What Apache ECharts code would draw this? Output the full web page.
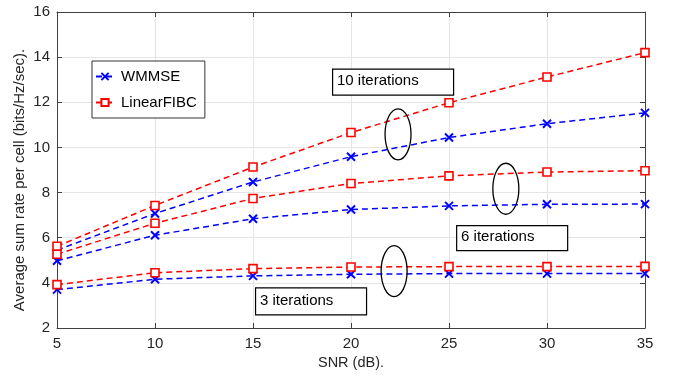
<!DOCTYPE html>
<html>
<head>
<meta charset="utf-8">
<script src="https://cdn.jsdelivr.net/npm/echarts@6/dist/echarts.min.js"></script>
<style>
html,body{margin:0;padding:0;background:#fff;}
#main{width:675px;height:379px;}
</style>
</head>
<body>
<div id="main"></div>
<script>
const snr = [5, 10, 15, 20, 25, 30, 35];
const xTicks = [5, 10, 15, 20, 25, 30, 35];
const yTicks = [2, 4, 6, 8, 10, 12, 14, 16];
const wmmse10 = [5.45, 7.07, 8.47, 9.59, 10.44, 11.05, 11.53];
const fibc10  = [5.62, 7.43, 9.13, 10.66, 11.98, 13.12, 14.2];
const wmmse6  = [4.98, 6.11, 6.84, 7.25, 7.41, 7.48, 7.49];
const fibc6   = [5.27, 6.64, 7.74, 8.4, 8.74, 8.91, 8.97];
const wmmse3  = [3.7, 4.16, 4.31, 4.38, 4.41, 4.41, 4.41];
const fibc3   = [3.92, 4.45, 4.63, 4.7, 4.72, 4.72, 4.73];
const legendNames = ['WMMSE', 'LinearFIBC'];
const xTitle = 'SNR (dB).';
const yTitle = 'Average sum rate per cell (bits/Hz/sec).';
const annotations = [
  {text: '10 iterations', x: 19.03, y: 13.5, w: 121, h: 26},
  {text: '6 iterations', x: 25.36, y: 6.56, w: 111, h: 25},
  {text: '3 iterations', x: 15.1, y: 3.8, w: 111, h: 27}
];
const ellipses = [
  {x: 22.4, y: 10.58},
  {x: 27.9, y: 8.17},
  {x: 22.2, y: 4.52}
];

const blue = '#0000ff', red = '#ff0000';
function pair(arr){ return snr.map((s,i)=>[s, arr[i]]); }
function mkSeries(name, arr, isBlue){
  return {
    name: name, type: 'line', data: pair(arr),
    symbol: isBlue ? 'path://M1,1L9,9M9,1L1,9' : 'rect',
    symbolSize: 8,
    showSymbol: true,
    lineStyle: {color: isBlue ? blue : red, width: 1.5, type: [6, 4]},
    itemStyle: isBlue ? {color: 'none', borderColor: blue, borderWidth: 2} : {color: '#fff', borderColor: red, borderWidth: 1.6},
    emphasis: {disabled: true},
    animation: false, z: isBlue ? 3 : 4
  };
}
const chart = echarts.init(document.getElementById('main'));
const axisColor = '#404040';
const gridColor = '#e5e5e5';
const txtColor = '#262626';
const fontFam = '"Liberation Sans", Arial, Helvetica, sans-serif';
chart.setOption({
  animation: false,
  backgroundColor: '#fff',
  grid: {left: 57, right: 30, top: 12, bottom: 51, containLabel: false},
  xAxis: [{
    type: 'value', min: 5, max: 35, interval: 5,
    name: xTitle, nameLocation: 'middle', nameGap: 27,
    nameTextStyle: {fontFamily: fontFam, fontSize: 14.5, color: txtColor},
    axisLine: {onZero: false, lineStyle: {color: axisColor, width: 1}},
    axisTick: {inside: true, length: 5, lineStyle: {color: axisColor}},
    axisLabel: {fontFamily: fontFam, fontSize: 15, color: txtColor, margin: 8},
    splitLine: {show: true, lineStyle: {color: gridColor, width: 1}}
  }, {
    type: 'value', min: 5, max: 35, interval: 5, position: 'top',
    axisLine: {onZero: false, lineStyle: {color: axisColor, width: 1}},
    axisTick: {inside: true, length: 5, lineStyle: {color: axisColor}},
    axisLabel: {show: false}, splitLine: {show: false}
  }],
  yAxis: [{
    type: 'value', min: 2, max: 16, interval: 2,
    axisLine: {show: true, onZero: false, lineStyle: {color: axisColor, width: 1}},
    axisTick: {show: true, inside: true, length: 5, lineStyle: {color: axisColor}},
    axisLabel: {fontFamily: fontFam, fontSize: 15, color: txtColor, margin: 7},
    splitLine: {show: true, lineStyle: {color: gridColor, width: 1}}
  }, {
    type: 'value', min: 2, max: 16, interval: 2, position: 'right',
    axisLine: {show: true, onZero: false, lineStyle: {color: axisColor, width: 1}},
    axisTick: {show: true, inside: true, length: 5, lineStyle: {color: axisColor}},
    axisLabel: {show: false}, splitLine: {show: false}
  }],
  legend: {
    show: true, orient: 'vertical', left: 92, top: 61,
    data: legendNames,
    itemWidth: 18, itemHeight: 9, itemGap: 11,
    padding: [8, 8, 8, 3],
    borderColor: '#333', borderWidth: 1, backgroundColor: '#fff',
    textStyle: {fontFamily: fontFam, fontSize: 15, color: '#000', padding: [0, 0, 0, 2]}
  },
  series: [
    mkSeries(legendNames[0], wmmse10, true),
    mkSeries(legendNames[1], fibc10, false),
    mkSeries(legendNames[0], wmmse6, true),
    mkSeries(legendNames[1], fibc6, false),
    mkSeries(legendNames[0], wmmse3, true),
    mkSeries(legendNames[1], fibc3, false)
  ]
});

const g = [];
annotations.forEach(a => {
  const p = chart.convertToPixel({xAxisIndex: 0, yAxisIndex: 0}, [a.x, a.y]);
  g.push({
    type: 'rect', left: p[0], top: p[1], z: 10,
    shape: {x: 0, y: 0, width: a.w, height: a.h},
    style: {fill: '#fff', stroke: '#000', lineWidth: 1.2}
  });
  g.push({
    type: 'text', left: p[0] + 5, top: p[1] + a.h / 2 - 8, z: 11,
    style: {text: a.text, font: '15px ' + fontFam, fill: '#000'}
  });
});
ellipses.forEach(e => {
  const p = chart.convertToPixel({xAxisIndex: 0, yAxisIndex: 0}, [e.x, e.y]);
  g.push({
    type: 'ellipse', z: 12, position: [p[0], p[1]],
    shape: {cx: 0, cy: 0, rx: 13, ry: 25.5},
    style: {fill: 'none', stroke: '#000', lineWidth: 1.3}
  });
});
g.push({
  type: 'text', z: 12, rotation: Math.PI / 2, position: [20, 180],
  style: {text: yTitle, font: '15px ' + fontFam, fill: txtColor, align: 'center', verticalAlign: 'middle'}
});
chart.setOption({graphic: g});
</script>
</body>
</html>
